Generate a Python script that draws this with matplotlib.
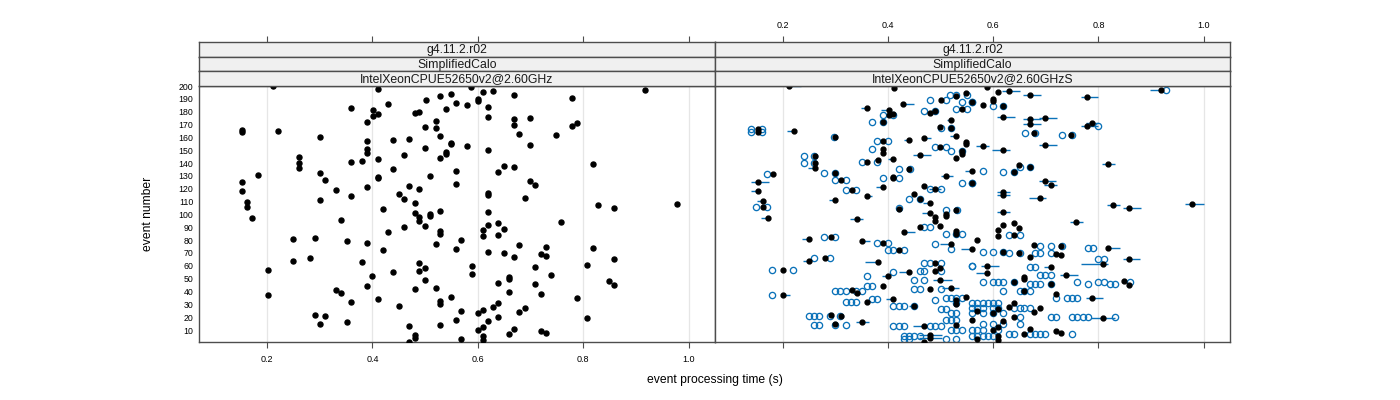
import matplotlib
matplotlib.use('Agg')
import matplotlib.pyplot as plt
import numpy as np

plt.rcParams['font.family'] = ['Liberation Sans', 'DejaVu Sans']

# event processing time per event (events 1..200)
times = [
    0.469, 0.609, 0.569, 0.480, 0.609, 0.480, 0.659, 0.729, 0.719, 0.600,
    0.669, 0.609, 0.469, 0.529, 0.300, 0.351, 0.619, 0.559, 0.808, 0.639,
    0.310, 0.291, 0.600, 0.678, 0.569, 0.609, 0.689, 0.629, 0.450, 0.529,
    0.639, 0.360, 0.529, 0.410, 0.788, 0.549, 0.201, 0.719, 0.340, 0.659,
    0.331, 0.480, 0.520, 0.390, 0.858, 0.709, 0.639, 0.848, 0.499, 0.659,
    0.659, 0.400, 0.739, 0.589, 0.440, 0.489, 0.201, 0.499, 0.709, 0.589,
    0.808, 0.489, 0.380, 0.250, 0.858, 0.281, 0.669, 0.729, 0.719, 0.649,
    0.619, 0.420, 0.559, 0.818, 0.729, 0.678, 0.520, 0.390, 0.351, 0.569,
    0.250, 0.291, 0.609, 0.639, 0.529, 0.430, 0.529, 0.609, 0.649, 0.460,
    0.499, 0.619, 0.639, 0.758, 0.489, 0.340, 0.171, 0.489, 0.510, 0.510,
    0.480, 0.619, 0.529, 0.420, 0.858, 0.162, 0.828, 0.977, 0.480, 0.162,
    0.300, 0.460, 0.689, 0.360, 0.619, 0.450, 0.619, 0.152, 0.331, 0.489,
    0.390, 0.469, 0.709, 0.559, 0.152, 0.699, 0.310, 0.410, 0.410, 0.510,
    0.182, 0.300, 0.639, 0.559, 0.440, 0.261, 0.669, 0.649, 0.818, 0.261,
    0.360, 0.380, 0.410, 0.529, 0.261, 0.460, 0.540, 0.390, 0.540, 0.619,
    0.390, 0.499, 0.580, 0.699, 0.549, 0.549, 0.390, 0.440, 0.469, 0.300,
    0.529, 0.748, 0.678, 0.152, 0.221, 0.152, 0.520, 0.499, 0.778, 0.669,
    0.788, 0.390, 0.520, 0.669, 0.699, 0.619, 0.401, 0.410, 0.480, 0.489,
    0.401, 0.540, 0.360, 0.619, 0.580, 0.429, 0.559, 0.600, 0.501, 0.600,
    0.778, 0.529, 0.669, 0.549, 0.609, 0.629, 0.918, 0.411, 0.588, 0.212,
]
events = list(range(1, 201))

# right panel: box extents (left / right of the median) where visible
box_ev = [200, 183, 186, 181, 165, 158, 159, 146, 143, 136, 125, 118, 110, 97,
          111, 114, 121, 130, 134, 173, 161, 120, 109, 101, 96, 81, 79, 64, 63,
          55, 52, 34, 86, 13, 16, 37, 77, 73, 43, 49, 29, 4, 6, 197, 193, 191,
          196, 176, 175, 174, 170, 169, 171, 154, 150, 153, 139, 126, 123, 117,
          115, 113, 107, 105, 108, 102, 94, 74, 65, 61, 59, 53, 60, 54, 35, 19]
box_lo = [0, .010, 0, .013, .011, .008, 0, .010, .008, .011, .011, .010, .010, .011,
          .011, 0, .010, .008, .011, .006, .010, .010, .011, .013, .010, .011, 0, .010, .021,
          .018, .009, .011, 0, .020, .010, 0, .020, .018, .016, .011, .008, .020, .020, .019, .010, .010,
          .010, .010, .010, .010, .010, .010, .010, .010, .020, .010, .010, .010, .011, .010,
          .010, .020, .010, .010, .010, .010, .010, 0, .010, .040, .010, .010, .010, .020, .010, .020]
box_hi = [.021, 0, .019, 0, 0, 0, .010, .019, 0, 0, .019, 0, 0, 0,
          0, .008, 0, .011, 0, 0, 0, .010, 0, 0, .010, 0, .013, 0, 0,
          0, 0, 0, .019, 0, .011, .011, 0, 0, .013, .021, 0, .021, .021, 0, .019, .019,
          .019, .021, .021, .019, .019, .019, .010, .021, .010, .010, .011, .018, .010, .010,
          .010, .010, .011, .020, .022, .010, .010, .021, .019, .009, 0, .020, .019, 0, .019, .021]

# right panel: individual runs drawn as open circles
out_ev = [189, 193, 187, 180, 182, 177, 172, 167, 166, 164, 160, 157, 151, 152, 149,
          145, 140, 141, 132, 127, 135, 128, 131, 119, 120, 124, 112, 106, 105, 103,
          82, 66, 57, 37, 78, 72, 90, 85, 77, 73, 62, 56, 55, 52, 49, 60, 44, 40, 42,
          32, 34, 29, 21, 14, 13, 18, 23, 31, 10, 5, 3, 35, 33, 26,
          197, 169, 163, 162, 184, 187, 134, 133, 137, 124, 84, 75, 74, 71, 70, 65,
          60, 59, 53, 47, 46, 40, 35, 31, 27, 23, 20, 15, 10, 7, 5]
out_t = [[0.480, 0.510], [0.518, 0.529, 0.550], [0.540, 0.560], [0.469, 0.490],
         [0.529, 0.550], [0.390, 0.410], [0.369, 0.390], [0.500, 0.520],
         [0.139, 0.160], [0.139, 0.160], [0.298], [0.379, 0.399], [0.369],
         [0.490, 0.510], [0.520, 0.540], [0.240, 0.260], [0.240, 0.260],
         [0.350, 0.379], [0.279, 0.300], [0.300, 0.320], [0.420, 0.441],
         [0.390, 0.420], [0.169], [0.320, 0.339], [0.480, 0.500], [0.540, 0.560],
         [0.439, 0.460], [0.149, 0.169], [0.420], [0.510, 0.531],
         [0.279, 0.300], [0.260, 0.290], [0.179, 0.220], [0.179], [0.379, 0.399],
         [0.399, 0.410, 0.430], [0.469, 0.480], [0.510, 0.529, 0.540], [0.490],
         [0.520], [0.469, 0.479, 0.500], [0.460, 0.469, 0.500], [0.410], [0.359],
         [0.450, 0.469], [0.560], [0.359, 0.369],
         [0.300, 0.309, 0.320, 0.339, 0.350], [0.450, 0.460, 0.500],
         [0.320, 0.330, 0.339], [0.369, 0.379], [0.410, 0.420, 0.430, 0.450],
         [0.249, 0.260, 0.269, 0.290, 0.309], [0.260, 0.269, 0.300, 0.320],
         [0.410, 0.420, 0.430, 0.479, 0.489, 0.500], [0.510, 0.520, 0.529],
         [0.520, 0.529], [0.529], [0.520, 0.529, 0.540], [0.430, 0.439, 0.450, 0.460],
         [0.430, 0.440, 0.510, 0.529], [0.510, 0.520, 0.529, 0.540], [0.490],
         [0.500, 0.510],
         [0.929], [0.799], [0.660, 0.680], [0.730, 0.750], [0.599, 0.619], [0.560],
         [0.580], [0.619, 0.640], [0.650, 0.670], [0.560], [0.630, 0.650],
         [0.689, 0.710, 0.730], [0.780, 0.790], [0.580, 0.599, 0.619],
         [0.630, 0.650, 0.680, 0.689, 0.710], [0.799, 0.810], [0.560], [0.669, 0.680],
         [0.689, 0.699, 0.710],
         [0.580, 0.599, 0.609, 0.619, 0.640, 0.760, 0.799, 0.810, 0.860],
         [0.669, 0.680, 0.689, 0.710, 0.780, 0.821, 0.831],
         [0.619, 0.650, 0.659, 0.669], [0.720, 0.740, 0.750, 0.760],
         [0.560, 0.570, 0.580, 0.590, 0.599, 0.609],
         [0.560, 0.570, 0.580, 0.599, 0.609, 0.640, 0.650, 0.659, 0.669],
         [0.560, 0.580, 0.599, 0.619],
         [0.650, 0.710, 0.720, 0.750, 0.760, 0.770, 0.780, 0.831],
         [0.580, 0.599, 0.619, 0.650], [0.560, 0.570, 0.580, 0.609],
         [0.630, 0.640, 0.669, 0.680, 0.689, 0.699, 0.750],
         [0.560, 0.570, 0.580, 0.590, 0.599]]

strip_rows = [['g4.11.2.r02', 'g4.11.2.r02'],
              ['SimplifiedCalo', 'SimplifiedCalo'],
              ['IntelXeonCPUE52650v2@2.60GHz', 'IntelXeonCPUE52650v2@2.60GHzS']]

xticks = [0.2, 0.4, 0.6, 0.8, 1.0]
xlim = (0.071, 1.050)
ylim = (0.7, 199.8)
frame = '#4d4d4d'
blue = '#0b72b9'

W, H = 1400, 400
fig = plt.figure(figsize=(14, 4), dpi=100)

def fx(px):
    return px / W

def fy(py):
    return 1 - py / H

panel_x = [(199, 715), (715, 1230)]
axes = []
for i, (x0, x1) in enumerate(panel_x):
    ax = fig.add_axes([fx(x0), fy(342), fx(x1 - x0), (342 - 86) / H])
    ax.set_xlim(*xlim)
    ax.set_ylim(*ylim)
    ax.set_xticks(xticks)
    ax.grid(axis='x', color='#e6e6e6', lw=0.9)
    ax.set_axisbelow(True)
    for s in ax.spines.values():
        s.set_color(frame)
        s.set_linewidth(1.0)
    ax.tick_params(axis='x', direction='out', length=4.3, width=0.8, color=frame,
                   labelsize=6.5, pad=5, labelbottom=(i == 0))
    if i == 0:
        ax.set_yticks(range(10, 201, 10))
        ax.tick_params(axis='y', length=0, labelsize=6.3, pad=4)
    else:
        ax.set_yticks([])
    axes.append(ax)

    # strips with the top ticks on the uppermost one
    sh = 44 / 3
    for k in range(3):
        top = 42 + k * sh
        sax = fig.add_axes([fx(x0), fy(top + sh), fx(x1 - x0), sh / H])
        sax.set_facecolor('#f0f0f0')
        sax.set_xlim(*xlim)
        sax.set_yticks([])
        for s in sax.spines.values():
            s.set_color(frame)
            s.set_linewidth(1.0)
        if k == 0:
            sax.set_xticks(xticks)
            sax.tick_params(axis='x', direction='out', length=4.3, width=0.8, color=frame,
                            top=True, bottom=False, labeltop=(i == 1), labelbottom=False,
                            labelsize=6.5, pad=4)
        else:
            sax.set_xticks([])
        sax.text(0.5, 0.45, strip_rows[k][i], transform=sax.transAxes,
                 ha='center', va='center', fontsize=8.8, color='#1a1a1a')

ax1, ax2 = axes

# left panel: one point per event
ax1.plot(times, events, 'o', color='black', ms=3.6, mec='black', zorder=3)

# right panel: boxes, runs and medians
for ev, lo, hi in zip(box_ev, box_lo, box_hi):
    m = times[ev - 1]
    ax2.plot([m - lo - 0.002, m + hi + 0.002], [ev, ev], color=blue, lw=1.0,
             solid_capstyle='butt', zorder=2)
for ev, ts in zip(out_ev, out_t):
    ax2.plot(ts, [ev] * len(ts), 'o', mfc='none', mec=blue, ms=4.5, mew=0.95,
             zorder=2, clip_on=True)
ax2.plot(times, events, 'o', color='black', ms=3.5, mec='black', zorder=3)

fig.text(fx(715), fy(380), 'event processing time (s)', ha='center', va='center',
         fontsize=8.7)
fig.text(fx(148), fy(214), 'event number', ha='center', va='center',
         rotation=90, fontsize=8.7)

fig.savefig('out.png', dpi=100)
